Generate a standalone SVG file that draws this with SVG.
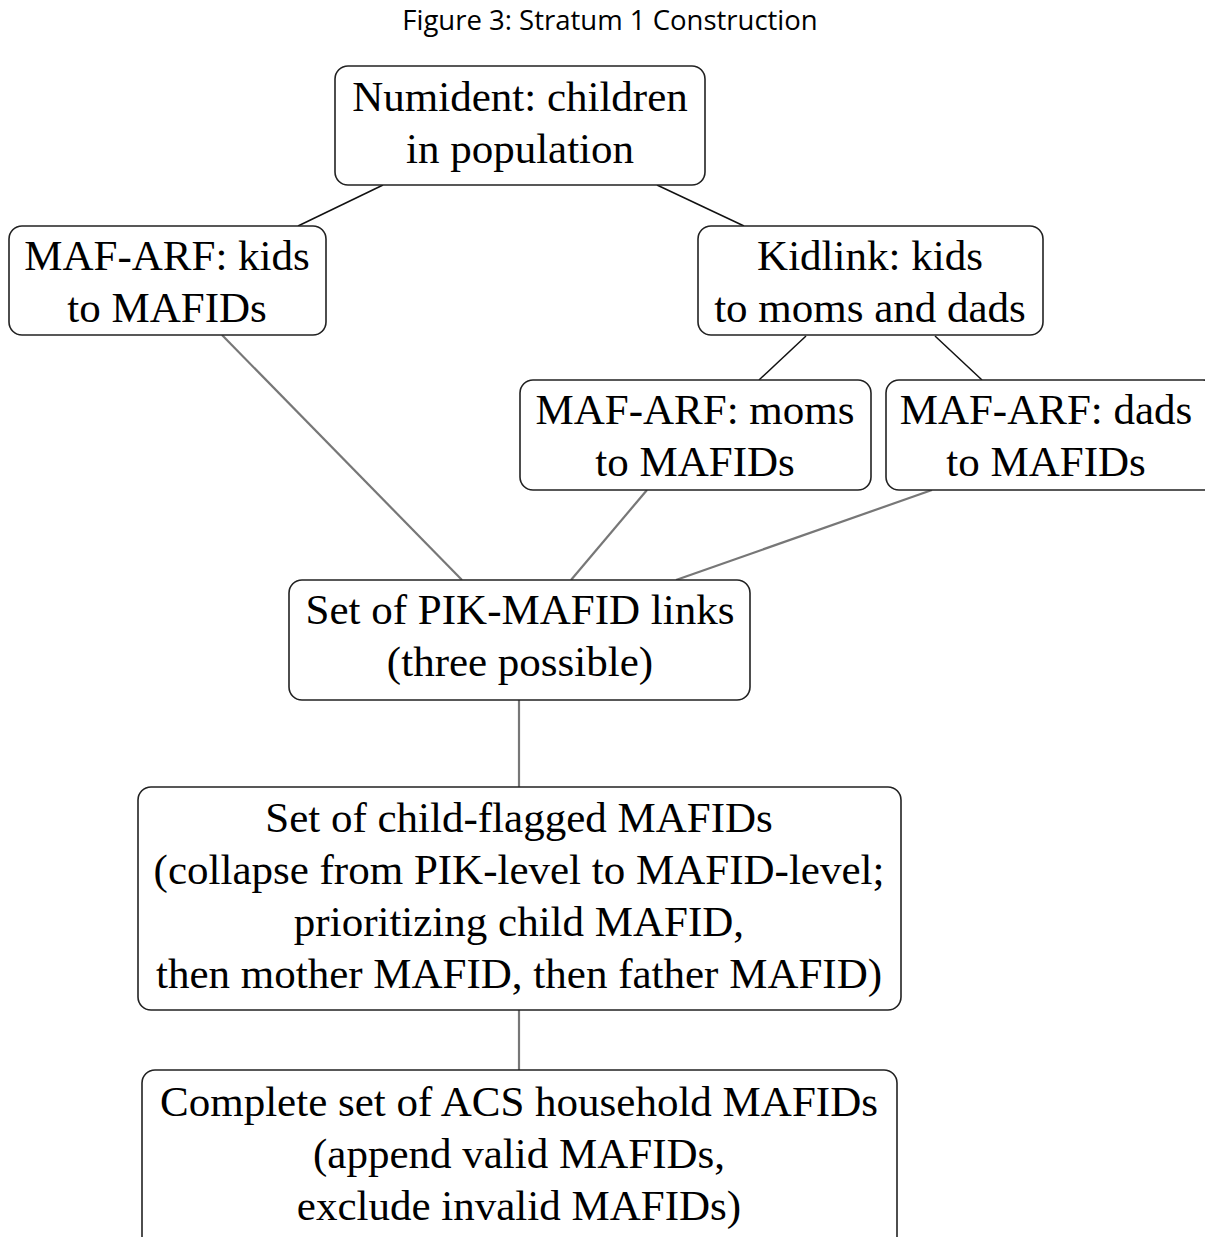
<svg xmlns="http://www.w3.org/2000/svg" width="1205" height="1237" viewBox="0 0 1205 1237">
<style>
.box{fill:#fff;stroke:#222;stroke-width:1.6}
.t{font-family:"Liberation Serif","Times New Roman",serif;font-size:43px;fill:#000;text-anchor:middle}
.title{font-family:"Open Sans","Liberation Sans",sans-serif;font-size:27.5px;fill:#000;text-anchor:middle}
.dk{stroke:#111;stroke-width:1.5;fill:none}
.gr{stroke:#777;stroke-width:2.2;fill:none}
</style>
<rect width="1205" height="1237" fill="#fff"/>
<text class="title" x="610" y="30">Figure 3: Stratum 1 Construction</text>
<g id="connectors">
<line class="dk" x1="383" y1="185" x2="298" y2="226"/>
<line class="dk" x1="657" y1="185" x2="744" y2="226"/>
<line class="dk" x1="806" y1="336" x2="759" y2="380"/>
<line class="dk" x1="935" y1="336" x2="982" y2="380"/>
<line class="gr" x1="222" y1="335" x2="462" y2="580"/>
<line class="gr" x1="647" y1="490" x2="571" y2="580"/>
<line class="gr" x1="932" y1="490" x2="676" y2="580"/>
<line class="gr" x1="519" y1="700" x2="519" y2="787"/>
<line class="gr" x1="519" y1="1010" x2="519" y2="1070"/>
</g>
<g id="numident">
<rect class="box" x="335" y="66" width="370" height="119" rx="13"/>
<text class="t" x="520" y="111">Numident: children</text>
<text class="t" x="520" y="163">in population</text>
</g>
<g id="maf-kids">
<rect class="box" x="9" y="226" width="317" height="109" rx="13"/>
<text class="t" x="167" y="270">MAF-ARF: kids</text>
<text class="t" x="167" y="322">to MAFIDs</text>
</g>
<g id="kidlink">
<rect class="box" x="698" y="226" width="345" height="109" rx="13"/>
<text class="t" x="870" y="270">Kidlink: kids</text>
<text class="t" x="870" y="322">to moms and dads</text>
</g>
<g id="maf-moms">
<rect class="box" x="520" y="380" width="351" height="110" rx="13"/>
<text class="t" x="695" y="424">MAF-ARF: moms</text>
<text class="t" x="695" y="476">to MAFIDs</text>
</g>
<g id="maf-dads">
<rect class="box" x="886" y="380" width="330" height="110" rx="13"/>
<text class="t" x="1046" y="424">MAF-ARF: dads</text>
<text class="t" x="1046" y="476">to MAFIDs</text>
</g>
<g id="pik-links">
<rect class="box" x="289" y="580" width="461" height="120" rx="13"/>
<text class="t" x="520" y="624">Set of PIK-MAFID links</text>
<text class="t" x="520" y="676">(three possible)</text>
</g>
<g id="child-flagged">
<rect class="box" x="138" y="787" width="763" height="223" rx="13"/>
<text class="t" x="519" y="832">Set of child-flagged MAFIDs</text>
<text class="t" x="519" y="884">(collapse from PIK-level to MAFID-level;</text>
<text class="t" x="519" y="936">prioritizing child MAFID,</text>
<text class="t" x="519" y="988">then mother MAFID, then father MAFID)</text>
</g>
<g id="complete-set">
<rect class="box" x="142" y="1070" width="755" height="180" rx="13"/>
<text class="t" x="519" y="1116">Complete set of ACS household MAFIDs</text>
<text class="t" x="519" y="1168">(append valid MAFIDs,</text>
<text class="t" x="519" y="1220">exclude invalid MAFIDs)</text>
</g>
</svg>
